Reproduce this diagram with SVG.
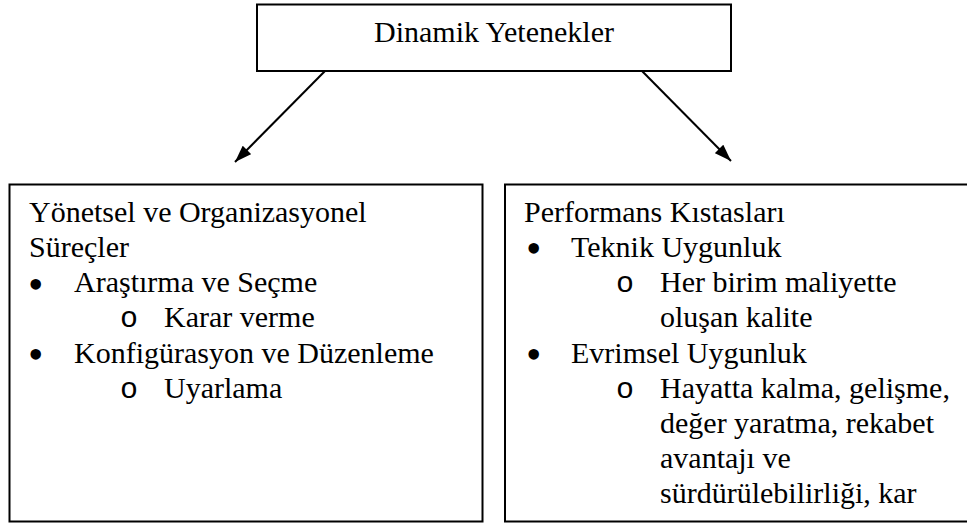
<svg xmlns="http://www.w3.org/2000/svg" width="967" height="525" viewBox="0 0 967 525">
<style>
  .box { fill: #fff; stroke: #000; stroke-width: 2; }
  .conn { stroke: #000; stroke-width: 2; fill: none; }
</style>
<defs>
  <marker id="ah" viewBox="0 0 17 12" refX="17" refY="6" markerWidth="17" markerHeight="12" markerUnits="userSpaceOnUse" orient="auto">
    <path d="M0,0 L17,6 L0,12 Z" fill="#000"/>
  </marker>
</defs>
<rect width="967" height="525" fill="#fff"/>
<g id="top" font-family="Liberation Serif, Times New Roman, serif" font-size="30" fill="#000">
  <rect class="box" x="257" y="4.5" width="474" height="66.5"/>
  <text x="494" y="42" text-anchor="middle">Dinamik Yetenekler</text>
</g>
<g id="left" font-family="Liberation Serif, Times New Roman, serif" font-size="30" fill="#000">
  <rect class="box" x="9.5" y="184.5" width="473" height="337"/>
  <text x="29" y="221.7">Yönetsel ve Organizasyonel</text>
  <text x="29" y="256.9">Süreçler</text>
  <text x="28" y="298.5" font-size="44">•</text>
  <text x="74" y="292.1">Araştırma ve Seçme</text>
  <text x="120" y="327.3" font-family="Liberation Mono, Courier New, monospace">o</text>
  <text x="164" y="327.3">Karar verme</text>
  <text x="28" y="368.9" font-size="44">•</text>
  <text x="74" y="362.5">Konfigürasyon ve Düzenleme</text>
  <text x="120" y="397.7" font-family="Liberation Mono, Courier New, monospace">o</text>
  <text x="164" y="397.7">Uyarlama</text>
</g>
<g id="right" font-family="Liberation Serif, Times New Roman, serif" font-size="30" fill="#000">
  <rect class="box" x="505" y="184.5" width="480" height="337"/>
  <text x="524" y="221.7">Performans Kıstasları</text>
  <text x="526" y="263.3" font-size="44">•</text>
  <text x="571" y="256.9">Teknik Uygunluk</text>
  <text x="616" y="292.1" font-family="Liberation Mono, Courier New, monospace">o</text>
  <text x="660" y="292.1">Her birim maliyette</text>
  <text x="660" y="327.3">oluşan kalite</text>
  <text x="526" y="368.9" font-size="44">•</text>
  <text x="571" y="362.5">Evrimsel Uygunluk</text>
  <text x="616" y="397.7" font-family="Liberation Mono, Courier New, monospace">o</text>
  <text x="660" y="397.7">Hayatta kalma, gelişme,</text>
  <text x="660" y="432.9">değer yaratma, rekabet</text>
  <text x="660" y="468.1">avantajı ve</text>
  <text x="660" y="503.3">sürdürülebilirliği, kar</text>
</g>
<g id="connectors">
  <line class="conn" x1="325" y1="71" x2="235" y2="162" marker-end="url(#ah)"/>
  <line class="conn" x1="642" y1="71" x2="731" y2="161" marker-end="url(#ah)"/>
</g>
</svg>
